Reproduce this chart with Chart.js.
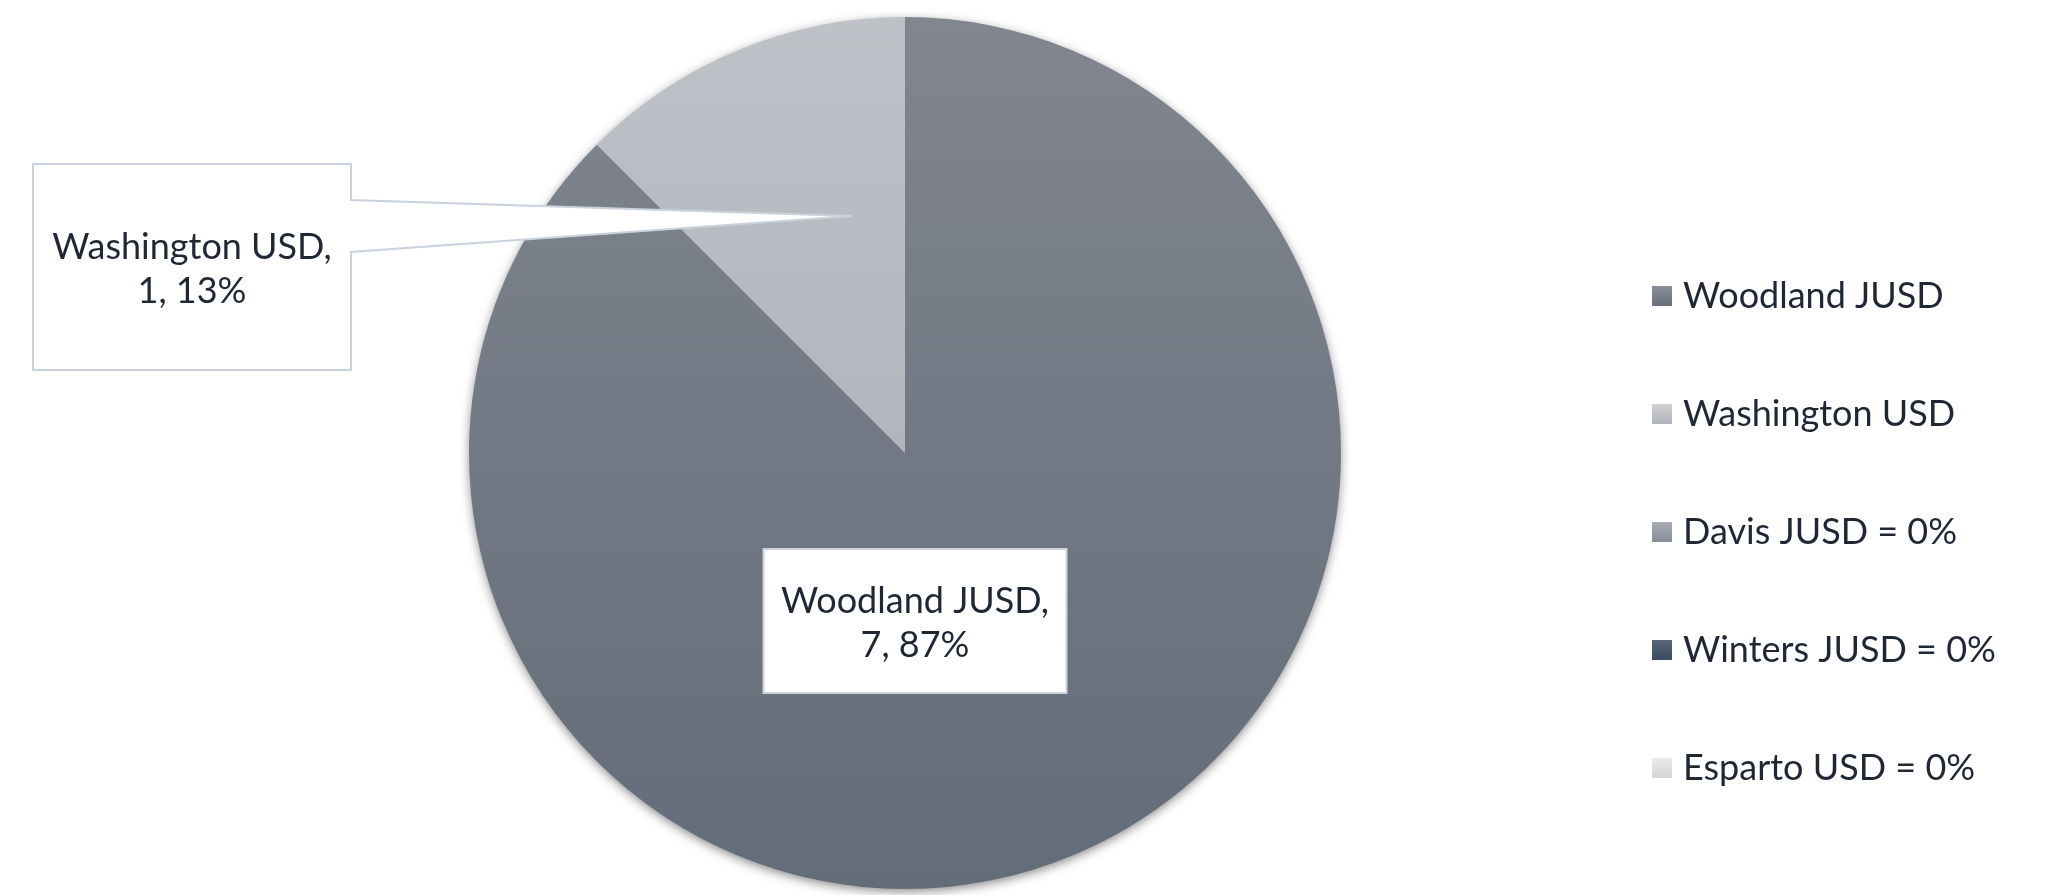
<!DOCTYPE html>
<html>
<head>
<meta charset="utf-8">
<script src="https://cdn.jsdelivr.net/npm/chart.js@4"></script>
<style>
  html, body { margin: 0; padding: 0; background: #fff; }
  #wrap { width: 2059px; height: 895px; }
</style>
</head>
<body>
<div id="wrap"><canvas id="chartjs_pie" width="2059" height="895"></canvas></div>
<script>
var districts = ['Woodland JUSD', 'Washington USD', 'Davis JUSD', 'Winters JUSD', 'Esparto USD'];
var students = [7, 1, 0, 0, 0];

// gradient stops [top, bottom] per slice / legend box
var sliceColors = [['#81868f', '#636c79'], ['#bec1c6', '#a6a9b0'], ['#a5a9b0', '#858b96'], ['#56657a', '#3e4c61'], ['#e6e7e9', '#d1d3d7']];
var boxColors = [['#8a909b', '#666e7b'], ['#d0d2d5', '#b0b3b9'], ['#a9adb4', '#868c97'], ['#56657a', '#3e4c61'], ['#e8e9eb', '#d3d5d8']];

var textColor = '#1e2733';
var labelFont = '36px Lato';

function percents() {
	var total = students.reduce(function (a, b) { return a + b; }, 0);
	var p = students.map(function (v) { return Math.round(v / total * 100); });
	var sum = p.reduce(function (a, b) { return a + b; }, 0);
	if (sum !== 100) {
		var big = students.indexOf(Math.max.apply(null, students));
		p[big] -= sum - 100;
	}
	return p;
}

function vGrad(ctx, top, bottom, c) {
	var g = ctx.createLinearGradient(0, top, 0, bottom);
	g.addColorStop(0, c[0]);
	g.addColorStop(1, c[1]);
	return g;
}

// soft shadow under the pie
var shadowPlugin = {
	id: 'pieShadow',
	beforeDatasetsDraw: function (chart) {
		var arc = chart.getDatasetMeta(0).data[0];
		if (!arc) return;
		var ctx = chart.ctx;
		ctx.save();
		ctx.shadowColor = 'rgba(0,0,0,0.5)';
		ctx.shadowBlur = 11;
		ctx.shadowOffsetY = 3;
		ctx.fillStyle = '#6e7581';
		ctx.beginPath();
		ctx.arc(arc.x, arc.y, arc.outerRadius - 1, 0, Math.PI * 2);
		ctx.fill();
		ctx.restore();
	}
};

// callout boxes, offsets from pie centre
var callouts = [
	{ index: 0, dx: 10, dy: 168, w: 303, h: 144 },
	{ index: 1, dx: -713, dy: -186, w: 318, h: 206, tipX: -53, tipY: -237, notchTop: -67, notchBottom: -15 }
];

var calloutPlugin = {
	id: 'callouts',
	afterDatasetsDraw: function (chart) {
		var ctx = chart.ctx;
		var meta = chart.getDatasetMeta(0);
		var pct = percents();
		ctx.save();
		callouts.forEach(function (c) {
			var arc = meta.data[c.index];
			var cx = arc.x + c.dx, cy = arc.y + c.dy;
			var l = cx - c.w / 2, r = cx + c.w / 2, t = cy - c.h / 2, b = cy + c.h / 2;
			ctx.beginPath();
			ctx.moveTo(l, t);
			ctx.lineTo(r, t);
			if (c.tipX !== undefined) {
				ctx.lineTo(r, cy + c.notchTop);
				ctx.lineTo(arc.x + c.tipX, arc.y + c.tipY);
				ctx.lineTo(r, cy + c.notchBottom);
			}
			ctx.lineTo(r, b);
			ctx.lineTo(l, b);
			ctx.closePath();
			ctx.fillStyle = '#ffffff';
			ctx.fill();
			ctx.lineWidth = 2;
			ctx.strokeStyle = '#c9d2dd';
			ctx.stroke();

			ctx.fillStyle = textColor;
			ctx.font = labelFont;
			ctx.textAlign = 'center';
			ctx.textBaseline = 'middle';
			ctx.fillText(districts[c.index] + ',', cx, cy - 20);
			ctx.fillText(students[c.index] + ', ' + pct[c.index] + '%', cx, cy + 24);
		});
		ctx.restore();
	}
};

// legend on the right
var legendPlugin = {
	id: 'sideLegend',
	afterDraw: function (chart) {
		var ctx = chart.ctx;
		var pct = percents();
		var x0 = 1652, y0 = 296, step = 118, box = 20;
		ctx.save();
		ctx.font = '36px Lato';
		ctx.textBaseline = 'middle';
		ctx.textAlign = 'left';
		districts.forEach(function (name, i) {
			var y = y0 + i * step;
			ctx.fillStyle = vGrad(ctx, y - box / 2, y + box / 2, boxColors[i]);
			ctx.fillRect(x0, y - box / 2, box, box);
			ctx.fillStyle = textColor;
			var txt = students[i] === 0 ? name + ' = ' + pct[i] + '%' : name;
			ctx.fillText(txt, x0 + 31, y);
		});
		ctx.restore();
	}
};

var ctx = document.getElementById('chartjs_pie').getContext('2d');
var myChart = new Chart(ctx, {
	type: 'pie',
	data: {
		labels: districts,
		datasets: [{
			data: students,
			borderWidth: 0,
			backgroundColor: function (context) {
				var area = context.chart.chartArea;
				if (!area) return sliceColors[context.dataIndex][0];
				return vGrad(context.chart.ctx, area.top, area.bottom, sliceColors[context.dataIndex]);
			}
		}]
	},
	options: {
		responsive: false,
		animation: false,
		layout: {
			padding: { left: 469, right: 718, top: 17, bottom: 6 }
		},
		plugins: {
			legend: { display: false },
			tooltip: { enabled: false }
		}
	},
	plugins: [shadowPlugin, calloutPlugin, legendPlugin]
});
</script>
</body>
</html>
